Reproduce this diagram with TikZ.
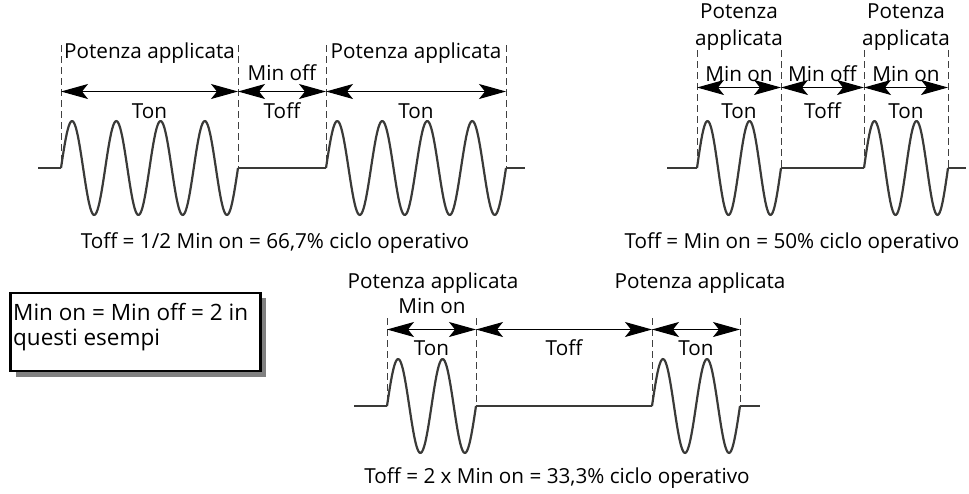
\documentclass[tikz,border=0pt]{standalone}
\usepackage{fontspec}
\setmainfont{Open Sans}
\usetikzlibrary{arrows.meta}
\definecolor{wavecol}{HTML}{3A3A38}
\definecolor{shadowcol}{HTML}{808080}
\tikzset{
  wave/.style={draw=wavecol, line width=2.2pt, line join=round},
  guide/.style={draw=black!75, line width=0.8pt, dash pattern=on 7pt off 4pt},
  dim/.style={draw=black, line width=1.1pt, {Stealth[length=27pt,width=15pt,inset=6pt]}-{Stealth[length=27pt,width=15pt,inset=6pt]}},
  lbl/.style={inner sep=0pt, anchor=base, font=\fontsize{20.7}{24}\selectfont, text=black},
  boxtxt/.style={inner sep=0pt, anchor=base west, font=\fontsize{22.5}{26}\selectfont, text=black},
  note/.style={draw=black, line width=2.6pt, fill=white, minimum width=250pt, minimum height=78pt, inner sep=0pt},
}
\newcommand{\sinewave}[4]{% start x, end x, periods, baseline y
  \draw[wave] plot[domain=0:#3*360, samples=#3*40, smooth] ({#1+\x/360*(#2-#1)/#3}, {#4-47*sin(\x)});}
\begin{document}
\begin{tikzpicture}[x=1pt,y=-1pt]
\useasboundingbox (0,0) rectangle (969,493);
% ---------------- top-left ----------------
\foreach \n/\xx in {a/61, b/238, c/326, d/506} {
  \coordinate (\n-t) at (\xx,45);
  \coordinate (\n-m) at (\xx,91.5);
  \coordinate (\n-b) at (\xx,168);
}
\foreach \n in {a,b,c,d} \draw[guide] (\n-t) -- (\n-b);
\coordinate (L0) at (38,168);
\coordinate (L1) at (525,168);
\draw[wave] (L0) -- (a-b);
\sinewave{61}{238}{4}{168}
\draw[wave] (b-b) -- (c-b);
\sinewave{326}{506}{4}{168}
\draw[wave] (d-b) -- (L1);
\draw[dim] (a-m) -- (b-m);
\draw[dim] (b-m) -- (c-m);
\draw[dim] (c-m) -- (d-m);
\node[lbl] (tlp1) at (149.5,58) {Potenza applicata};
\node[lbl] (tlp2) at (416,58) {Potenza applicata};
\node[lbl] (tlmo) at (282,80) {Min off};
\node[lbl] (tlt1) at (149.5,118) {Ton};
\node[lbl] (tlt2) at (282,118) {Toff};
\node[lbl] (tlt3) at (416,118) {Ton};
\node[lbl] (tlcap) at (275,248) {Toff = 1/2 Min on = 66,7\% ciclo operativo};
% ---------------- top-right ----------------
\foreach \n/\xx in {e/697, f/781, g/864, h/948} {
  \coordinate (\n-t) at (\xx,50);
  \coordinate (\n-m) at (\xx,87.5);
  \coordinate (\n-b) at (\xx,168);
}
\foreach \n in {e,f,g,h} \draw[guide] (\n-t) -- (\n-b);
\coordinate (R0) at (667,168);
\coordinate (R1) at (966,168);
\draw[wave] (R0) -- (e-b);
\sinewave{697}{781}{2}{168}
\draw[wave] (f-b) -- (g-b);
\sinewave{864}{948}{2}{168}
\draw[wave] (h-b) -- (R1);
\draw[dim] (e-m) -- (f-m);
\draw[dim] (f-m) -- (g-m);
\draw[dim] (g-m) -- (h-m);
\node[lbl] (trp1a) at (739,18) {Potenza};
\node[lbl] (trp1b) at (739,45) {applicata};
\node[lbl] (trp2a) at (906,18) {Potenza};
\node[lbl] (trp2b) at (906,45) {applicata};
\node[lbl] (trm1) at (739,81.5) {Min on};
\node[lbl] (trm2) at (822.5,81.5) {Min off};
\node[lbl] (trm3) at (906,81.5) {Min on};
\node[lbl] (trt1) at (739,118) {Ton};
\node[lbl] (trt2) at (822.5,118) {Toff};
\node[lbl] (trt3) at (906,118) {Ton};
\node[lbl] (trcap) at (792,248) {Toff = Min on = 50\% ciclo operativo};
% ---------------- bottom ----------------
\foreach \n/\xx in {p/387, q/476, r/652, s/740} {
  \coordinate (\n-t) at (\xx,318);
  \coordinate (\n-m) at (\xx,329.5);
  \coordinate (\n-b) at (\xx,406);
}
\foreach \n in {p,q,r,s} \draw[guide] (\n-t) -- (\n-b);
\coordinate (B0) at (354,406);
\coordinate (B1) at (760,406);
\draw[wave] (B0) -- (p-b);
\sinewave{387}{476}{2}{406}
\draw[wave] (q-b) -- (r-b);
\sinewave{652}{740}{2}{406}
\draw[wave] (s-b) -- (B1);
\draw[dim] (p-m) -- (q-m);
\draw[dim] (q-m) -- (r-m);
\draw[dim] (r-m) -- (s-m);
\node[lbl] (bp1) at (433,288) {Potenza applicata};
\node[lbl] (bp2) at (700,288) {Potenza applicata};
\node[lbl] (bmo) at (432,313) {Min on};
\node[lbl] (bt1) at (431.5,355) {Ton};
\node[lbl] (bt2) at (564,355) {Toff};
\node[lbl] (bt3) at (696,355) {Ton};
\node[lbl] (bcap) at (557,483) {Toff = 2 x Min on = 33,3\% ciclo operativo};
% ---------------- note box ----------------
\fill[shadowcol] (16,298) rectangle (266,377);
\node[note, anchor=north west] (box) at (9.3,291.7) {};
\node[boxtxt] (boxl1) at (13,320) {Min on = Min off = 2 in};
\node[boxtxt] (boxl2) at (13,345) {questi esempi};
\end{tikzpicture}
\end{document}
